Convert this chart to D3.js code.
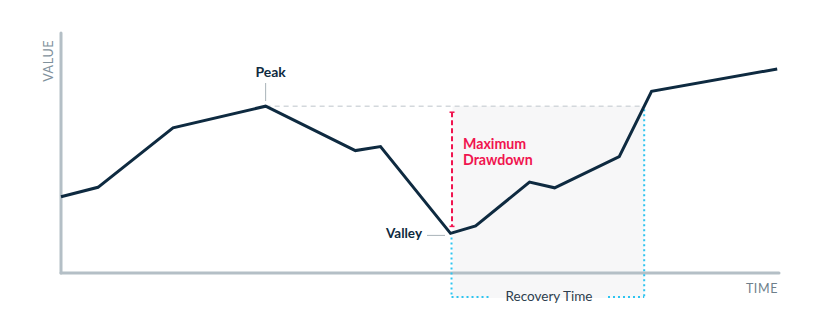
<!DOCTYPE html>
<html><head><meta charset="utf-8">
<script src="https://cdn.jsdelivr.net/npm/d3@7"></script>
<style>
html,body{margin:0;padding:0;background:#fff;}
svg{display:block;font-family:Lato,"Open Sans",sans-serif;}
</style></head>
<body>
<svg id="chart" width="825" height="327"></svg>
<script>
// ---- data ----
const times  = [0, 1.03, 3.12, 5.7, 8.2, 8.9, 10.85, 11.55, 13.05, 13.75, 15.55, 16.45, 19.95];
const values = [31.8, 35.7, 60.5, 69.5, 51.0, 52.7, 16.5, 19.6, 37.9, 35.5, 48.5, 75.7, 85.0];
const axisLabels = ["TIME", "VALUE"];
const annotations = ["Peak", "Valley", "Maximum", "Drawdown", "Recovery Time"];

const svg = d3.select("#chart");
const x = d3.scaleLinear().domain([0, 20]).range([61, 779]);
const y = d3.scaleLinear().domain([0, 100]).range([273, 33]);

const data = times.map((t, i) => ({t, v: values[i]}));
const peakIdx = d3.maxIndex(values.slice(0, 8));
const valleyIdx = d3.minIndex(values);
const peak = data[peakIdx], valley = data[valleyIdx];
// recovery: first crossing of peak value after valley
let recT = times[times.length - 1];
for (let i = valleyIdx; i < data.length - 1; i++) {
  const a = data[i], b = data[i + 1];
  if (a.v < peak.v && b.v >= peak.v) { recT = a.t + (peak.v - a.v) / (b.v - a.v) * (b.t - a.t); break; }
}
const bottomY = 297;

// shaded recovery region
svg.append("rect")
  .attr("x", x(valley.t) + 2).attr("y", y(peak.v))
  .attr("width", x(recT) - x(valley.t) - 2).attr("height", bottomY + 1 - y(peak.v))
  .attr("fill", "#f7f7f8");

// axes
const axisColor = "#b4bfc6";
svg.append("line").attr("x1", x(0)).attr("x2", x(0)).attr("y1", y(100)).attr("y2", y(0))
  .attr("stroke", axisColor).attr("stroke-width", 3).attr("stroke-linecap", "round");
svg.append("line").attr("x1", x(0)).attr("x2", x(20)).attr("y1", y(0)).attr("y2", y(0))
  .attr("stroke", axisColor).attr("stroke-width", 3).attr("stroke-linecap", "round");

svg.append("text").attr("x", x(20) - 1).attr("y", 293).attr("text-anchor", "end")
  .attr("font-size", 12.5).attr("letter-spacing", 0.6).attr("fill", "#6e7f8b").text(axisLabels[0]);
svg.append("text").attr("transform", `translate(53,${y(100) + 7}) rotate(-90)`).attr("text-anchor", "end")
  .attr("font-size", 12.5).attr("letter-spacing", 0.6).attr("fill", "#7f919c").text(axisLabels[1]);

// peak dashed level line
svg.append("line").attr("x1", x(peak.t)).attr("x2", x(recT)).attr("y1", y(peak.v)).attr("y2", y(peak.v))
  .attr("stroke", "#d3d8dc").attr("stroke-width", 1.5).attr("stroke-dasharray", "5,4");

// recovery dotted bracket
const blue = "#2ec4f0";
const dot = {stroke: blue, "stroke-width": 2, "stroke-dasharray": "2,3"};
function dl(x1, y1, x2, y2, st) {
  const l = svg.append("line").attr("x1", x1).attr("y1", y1).attr("x2", x2).attr("y2", y2).attr("fill", "none");
  Object.entries(st).forEach(([k, v]) => l.attr(k, v));
  return l;
}
dl(x(valley.t) + 1, y(valley.v) + 4, x(valley.t) + 1, bottomY, dot);
dl(x(recT), y(peak.v) + 3, x(recT), bottomY, dot);
dl(x(valley.t) + 1, bottomY, 490, bottomY, dot);
dl(608, bottomY, x(recT), bottomY, dot);
svg.append("text").attr("x", 549).attr("y", 301).attr("text-anchor", "middle")
  .attr("font-size", 13.5).attr("fill", "#2d3e4e").text(annotations[4]);

// max drawdown
const red = "#f0144f";
const mx = x(valley.t) + 1.5;
const topD = y(peak.v) + 6, botD = y(valley.v) - 7;
dl(mx, topD, mx, botD, {stroke: red, "stroke-width": 2, "stroke-dasharray": "5,3"});
dl(mx - 2.5, topD, mx + 2.5, topD, {stroke: red, "stroke-width": 1.5});
dl(mx - 2.5, botD, mx + 2.5, botD, {stroke: red, "stroke-width": 1.5});
svg.append("text").attr("x", 463).attr("y", 149).attr("font-size", 14.2).attr("font-weight", 700)
  .attr("fill", red).text(annotations[2]);
svg.append("text").attr("x", 463).attr("y", 165).attr("font-size", 14.2).attr("font-weight", 700)
  .attr("fill", red).text(annotations[3]);

// main line
svg.append("path").datum(data)
  .attr("d", d3.line().x(d => x(d.t)).y(d => y(d.v)))
  .attr("fill", "none").attr("stroke", "#0e2a40").attr("stroke-width", 3).attr("stroke-linejoin", "miter");

// peak label
dl(x(peak.t), 83, x(peak.t), 101, {stroke: "#a9b3b9", "stroke-width": 1});
svg.append("text").attr("x", x(peak.t) + 5).attr("y", 77).attr("text-anchor", "middle")
  .attr("font-size", 14).attr("font-weight", 700).attr("fill", "#0e2a40").text(annotations[0]);

// valley label
dl(427, y(valley.v) + 2, 445, y(valley.v) + 2, {stroke: "#a9b3b9", "stroke-width": 1});
svg.append("text").attr("x", 422).attr("y", 238).attr("text-anchor", "end")
  .attr("font-size", 13.5).attr("font-weight", 700).attr("fill", "#0e2a40").text(annotations[1]);
</script>
</body></html>
